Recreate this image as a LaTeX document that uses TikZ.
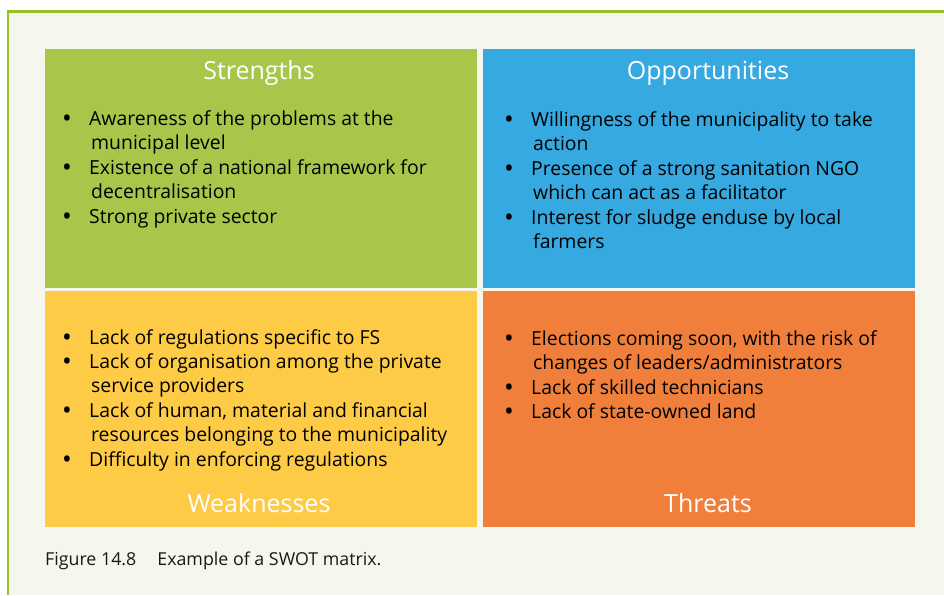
\documentclass[tikz,border=0pt]{standalone}
\usepackage{fontspec}
\setmainfont{Open Sans}
\definecolor{bgc}{HTML}{F5F7EF}
\definecolor{frame}{HTML}{97C224}
\definecolor{sgreen}{HTML}{A8C64A}
\definecolor{oblue}{HTML}{36A9E0}
\definecolor{wyellow}{HTML}{FECB47}
\definecolor{torange}{HTML}{F07F3C}
\begin{document}
\begin{tikzpicture}[x=1pt,y=-1pt,
  title/.style={text=white,font=\fontsize{25}{28}\selectfont,anchor=base,inner sep=0pt},
  item/.style={anchor=base west,inner sep=0pt,font=\fontsize{19.4}{22}\selectfont},
  dot/.style={anchor=base,inner sep=0pt,font=\fontsize{26}{22}\selectfont}]
\useasboundingbox (0,0) rectangle (944,595);
\fill[white] (0,0) rectangle (944,595);
\fill[bgc] (8,11) rectangle (944,595);
\draw[frame,line width=2.7pt] (8,595) -- (8,11.3) -- (944,11.3);
% quadrants
\fill[sgreen] (45,49) rectangle (477,288);
\fill[oblue] (483,49) rectangle (915,288);
\fill[wyellow] (45,291) rectangle (477,527);
\fill[torange] (483,291) rectangle (915,527);
% titles
\node[title] (ts) at (259,79) {Strengths};
\node[title] (to) at (708,79) {Opportunities};
\node[title] (tw) at (259,512) {Weaknesses};
\node[title] (tt) at (708,512) {Threats};
\begin{scope}[yshift=-1pt]
% Strengths
\node[dot] (s1b) at (67,126) {•};
\node[item] (s1) at (89,124) {Awareness of the problems at the};
\node[item] (s1c) at (91,148.5) {municipal level};
\node[dot] (s2b) at (67,175) {•};
\node[item] (s2) at (89,173) {Existence of a national framework for};
\node[item] (s2c) at (91,197.5) {decentralisation};
\node[dot] (s3b) at (67,224) {•};
\node[item] (s3) at (89,222) {Strong private sector};
% Opportunities
\node[dot] (o1b) at (509,127) {•};
\node[item] (o1) at (531,125) {Willingness of the municipality to take};
\node[item] (o1c) at (533,149.5) {action};
\node[dot] (o2b) at (509,176) {•};
\node[item] (o2) at (531,174) {Presence of a strong sanitation NGO};
\node[item] (o2c) at (533,198.5) {which can act as a facilitator};
\node[dot] (o3b) at (509,225) {•};
\node[item] (o3) at (531,223) {Interest for sludge enduse by local};
\node[item] (o3c) at (533,247.5) {farmers};
% Weaknesses
\node[dot] (w1b) at (67,345) {•};
\node[item] (w1) at (89,343) {Lack of regulations specific to FS};
\node[dot] (w2b) at (67,369) {•};
\node[item] (w2) at (89,367) {Lack of organisation among the private};
\node[item] (w2c) at (91,391.5) {service providers};
\node[dot] (w3b) at (67,418) {•};
\node[item] (w3) at (89,416) {Lack of human, material and financial};
\node[item] (w3c) at (91,440.5) {resources belonging to the municipality};
\node[dot] (w4b) at (67,467) {•};
\node[item] (w4) at (89,465) {Difficulty in enforcing regulations};
% Threats
\node[dot] (t1b) at (509,346) {•};
\node[item] (t1) at (531,344) {Elections coming soon, with the risk of};
\node[item] (t1c) at (533,368.5) {changes of leaders/administrators};
\node[dot] (t2b) at (509,395) {•};
\node[item] (t2) at (531,393) {Lack of skilled technicians};
\node[dot] (t3b) at (509,419) {•};
\node[item] (t3) at (531,417) {Lack of state-owned land};
\end{scope}
% caption
\node[anchor=base west,inner sep=0pt,font=\fontsize{17.8}{20}\selectfont,text=black!90] (cap) at (45,565) {Figure 14.8\hspace{21pt}Example of a SWOT matrix.};
\end{tikzpicture}
\end{document}
